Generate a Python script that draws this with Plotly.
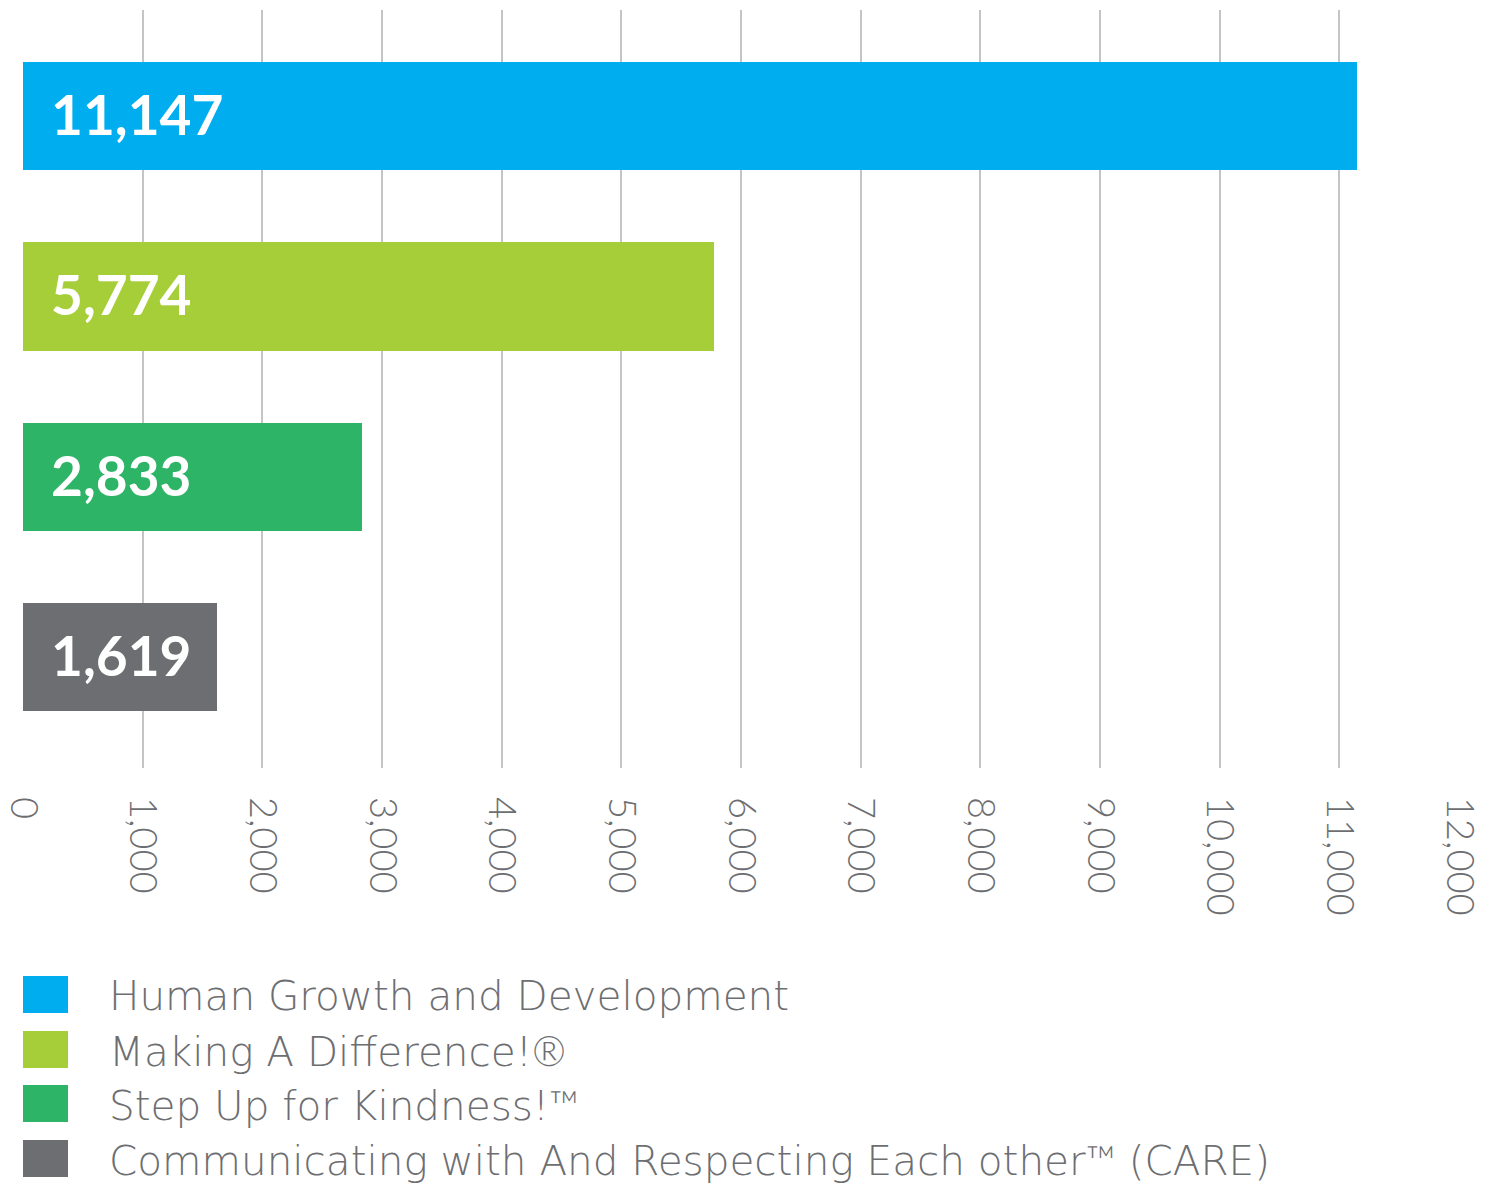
import plotly.graph_objects as go

categories = [
    "Human Growth and Development",
    "Making A Difference!®",
    "Step Up for Kindness!™",
    "Communicating with And Respecting Each other™ (CARE)",
]
values = [11147, 5774, 2833, 1619]
colors = ["#00aeef", "#a6ce39", "#2db467", "#6d6e71"]
tick_values = list(range(0, 12001, 1000))
tick_labels = [f"{v:,}" for v in tick_values]

W, H = 1489, 1184
L, R, T, B = 23, 30, 10, 416
plot_h = H - T - B
plot_w = W - L - R

def py(p):
    return (H - B - p) / plot_h

def px(p):
    return (p - L) / plot_w

TEXT = "#6d6e71"

def legend_text(s):
    for sym in ("™", "®"):
        s = s.replace(sym, f'<span style="font-family:Lato;font-weight:300">{sym}</span>')
    return s

fig = go.Figure()
fig.add_trace(go.Bar(
    y=list(range(len(categories))),
    x=values,
    orientation="h",
    marker=dict(color=colors, line=dict(width=0)),
    width=0.6,
    showlegend=False,
    hoverinfo="skip",
))

annotations = []
for i, v in enumerate(values):
    annotations.append(dict(
        x=0, y=i, xref="x", yref="y", text=f"{v:,}", showarrow=False,
        xanchor="left", yanchor="middle", xshift=26, yshift=2,
        font=dict(family="Lato", size=55, color="white", weight=700),
    ))

shapes = []
sq_top = [976, 1031, 1085, 1140]
for i, (name, c) in enumerate(zip(categories, colors)):
    shapes.append(dict(
        type="rect", xref="paper", yref="paper",
        x0=px(23), x1=px(68), y0=py(sq_top[i] + 37), y1=py(sq_top[i]),
        fillcolor=c, line=dict(width=0),
    ))
    annotations.append(dict(
        x=px(107), y=py(sq_top[i] + 20), xref="paper", yref="paper",
        text=legend_text(name), showarrow=False, xanchor="left", yanchor="middle",
        font=dict(family="DejaVu Sans", size=40.5, color=TEXT, weight=200),
    ))

fig.update_layout(
    width=W, height=H,
    margin=dict(l=L, r=R, t=T, b=B, autoexpand=False),
    paper_bgcolor="white", plot_bgcolor="white",
    bargap=0,
    xaxis=dict(
        range=[0, 12000], tickvals=tick_values, ticktext=tick_labels,
        tickangle=90, showgrid=True, gridcolor="#c4c4c4", gridwidth=1.5,
        zeroline=False, showline=False, ticks="", automargin=False,
        ticklabelstandoff=28,
        tickfont=dict(family="Lato", size=38, color=TEXT, weight=300),
    ),
    yaxis=dict(
        range=[3.615, -0.588], showticklabels=False, showgrid=False,
        zeroline=False, showline=False, automargin=False,
    ),
    annotations=annotations,
    shapes=shapes,
)

fig.write_html("out.html")
